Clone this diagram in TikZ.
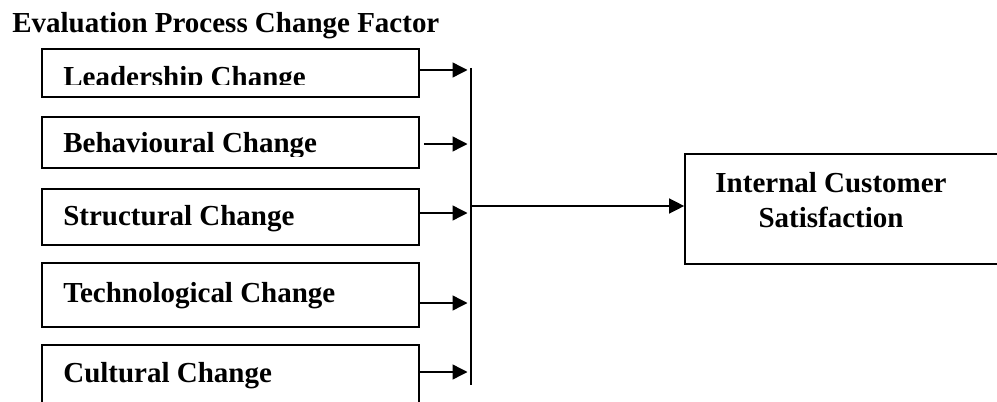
\documentclass[tikz,border=0pt]{standalone}
\usepackage{fontspec}
\setmainfont{Liberation Serif}
\usetikzlibrary{arrows.meta, positioning}

\begin{document}
\begin{tikzpicture}[
  x=0.02cm, y=-0.02cm,
  font=\fontsize{16.5}{19.9}\selectfont\bfseries,
  box/.style={draw, line width=1pt, minimum width=7.54cm, inner sep=0pt},
  lbl/.style={anchor=base west, inner sep=0pt},
  arr/.style={-{Triangle[length=0.3cm, width=0.3cm]}, line width=0.8pt,
              shorten >=0.07cm}
]
  \useasboundingbox (0,0) rectangle (997,402);
  \clip (0,0) rectangle (997,402);

  % title
  \node[lbl] (title) at (12,33) {Evaluation Process Change Factor};

  % change factors
  \node[box, minimum height=0.96cm] (lead)  at (230.5,73)    {};
  \node[box, minimum height=1.02cm] (beh)   at (230.5,142.5) {};
  \node[box, minimum height=1.12cm] (struc) at (230.5,217)   {};
  \node[box, minimum height=1.28cm] (tech)  at (230.5,295)   {};
  \node[box, minimum height=1.34cm] (cult)  at (230.5,378.5) {};

  \begin{scope}
    \clip (42,49) rectangle (419,85);
    \node[lbl] (leadlbl) at (63,87) {Leadership Change};
  \end{scope}
  \begin{scope}
    \clip (42,117) rectangle (419,156);
    \node[lbl] (behlbl) at (63,153) {Behavioural Change};
  \end{scope}
  \node[lbl] (struclbl) at (63,225) {Structural Change};
  \node[lbl] (techlbl)  at (63,302) {Technological Change};
  \node[lbl] (cultlbl)  at (63,382) {Cultural Change};

  % outcome
  \node[draw, line width=1pt, minimum width=6.6cm, minimum height=2.2cm,
        inner sep=0pt] (sat) at (850,209) {};
  \node[align=center, inner sep=0pt, anchor=base] (satlbl) at (831,227)
    {Internal Customer\\Satisfaction};

  % collecting bar
  \coordinate (bartop) at (471,68);
  \coordinate (barbot) at (471,385);
  \coordinate (join)   at (471,206);
  \draw[line width=0.8pt] (bartop) -- (barbot);

  \draw[arr] (lead.east  |- 0,70)  -- (bartop |- 0,70);
  \draw[arr, shorten <=0.08cm] (beh.east |- 0,144) -- (bartop |- 0,144);
  \draw[arr] (struc.east |- 0,213) -- (bartop |- 0,213);
  \draw[arr] (tech.east  |- 0,303) -- (bartop |- 0,303);
  \draw[arr] (cult.east  |- 0,372) -- (bartop |- 0,372);
  \draw[arr, shorten >=0pt] (join) -- (join -| sat.west);
\end{tikzpicture}
\end{document}
